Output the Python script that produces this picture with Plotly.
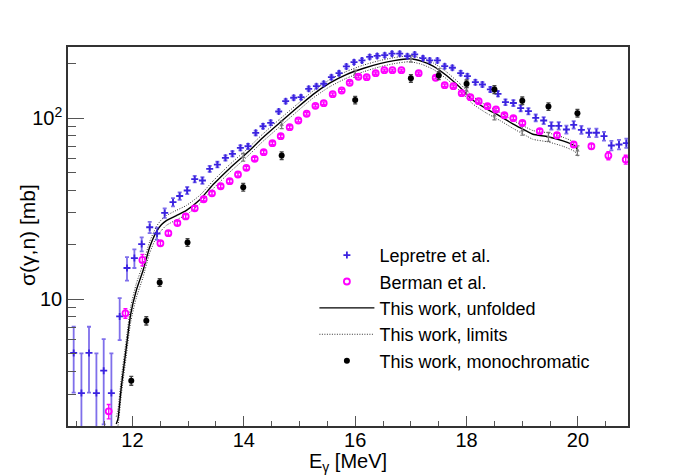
import plotly.graph_objects as go

# ---------------- data ----------------
lep_E = [10.946, 11.085, 11.221, 11.354, 11.485, 11.623, 11.772, 11.903, 12.036, 12.167,
         12.311, 12.442, 12.580, 12.729, 12.849, 12.984, 13.119, 13.257, 13.388, 13.526,
         13.670, 13.796, 13.939, 14.076, 14.214, 14.345, 14.483, 14.627, 14.752, 14.896,
         15.027, 15.165, 15.304, 15.435, 15.573, 15.710, 15.842, 15.979, 16.122, 16.260,
         16.395, 16.530, 16.661, 16.799, 16.937, 17.068, 17.217, 17.338, 17.476, 17.607,
         17.745, 17.894, 18.015, 18.158, 18.284, 18.427, 18.564, 18.698, 18.840, 18.971,
         19.110, 19.241, 19.384, 19.522, 19.654, 19.792, 19.923, 20.061, 20.198, 20.331,
         20.467, 20.600, 20.736, 20.869]
lep_sig = [5.06, 3.04, 5.06, 3.04, 4.04, 3.04, 8.05, 14.9, 16.9, 20.2,
           25.0, 23.1, 30.0, 34.4, 37.2, 39.9, 46.1, 45.3, 52.5, 55.5,
           60.4, 63.6, 68.6, 70.0, 83.0, 90.3, 94.3, 108.9, 124.2, 129.7,
           130.6, 145.3, 150.2, 154.9, 168.5, 177.3, 193.0, 203.9, 208.4, 217.9,
           220.6, 222.9, 227.0, 227.0, 220.0, 224.9, 214.5, 208.4, 208.4, 193.8,
           189.9, 177.3, 170.6, 158.1, 153.5, 144.1, 136.4, 122.6, 121.3, 113.6,
           109.3, 100.5, 97.1, 90.8, 90.8, 86.6, 91.9, 86.3, 83.1, 83.1,
           79.6, 70.7, 71.6, 72.8]
lep_err = [2.0, 2.0, 2.0, 2.0, 2.0, 2.0, 2.1, 2.2, 2.0, 1.8,
           1.8, 1.8, 1.8, 1.8, 1.8, 1.8, 1.9, 1.9, 2.0, 2.0,
           2.0, 2.1, 2.2, 2.2, 2.5, 2.7, 2.8, 3.0, 3.3, 3.4,
           3.5, 3.8, 4.0, 4.2, 4.5, 4.7, 5.0, 5.2, 5.3, 5.5,
           5.5, 5.6, 5.7, 5.7, 5.6, 5.7, 5.5, 5.4, 5.4, 5.2,
           5.1, 5.0, 4.9, 4.8, 4.7, 4.6, 4.6, 4.5, 4.5, 4.4,
           4.4, 4.3, 4.3, 4.3, 4.3, 4.3, 4.4, 4.4, 4.4, 4.4,
           4.4, 4.3, 4.3, 4.3]

ber_E = [11.575, 11.875, 12.180, 12.503, 12.646, 12.808, 12.957, 13.119, 13.280, 13.429,
         13.585, 13.747, 13.896, 14.047, 14.196, 14.357, 14.514, 14.663, 14.824, 14.980,
         15.129, 15.286, 15.435, 15.596, 15.758, 15.901, 16.058, 16.207, 16.368, 16.524,
         16.668, 16.830, 17.140, 17.445, 17.607, 17.763, 17.912, 18.068, 18.217, 18.374,
         18.528, 18.679, 18.840, 19.002, 19.313, 19.623, 19.923, 20.241, 20.546, 20.857]
ber_sig = [2.41, 8.37, 16.5, 20.4, 23.2, 26.4, 28.7, 31.8, 35.7, 38.5,
           42.1, 44.9, 48.9, 53.2, 59.7, 64.9, 72.8, 79.6, 89.2, 97.1,
           105.8, 117.1, 121.0, 135.7, 142.2, 156.9, 169.3, 168.5, 177.3, 184.1,
           184.1, 184.1, 177.3, 167.2, 152.2, 150.2, 137.4, 130.6, 124.2, 116.5,
           111.7, 103.9, 100.0, 94.1, 84.8, 80.5, 71.6, 70.0, 62.2, 59.1]
ber_err = [0.22, 0.5, 1.2, 0.6, 0.6, 0.7, 0.7, 0.8, 0.8, 0.9,
           0.9, 1.0, 1.0, 1.1, 1.2, 1.3, 1.4, 1.5, 1.6, 1.7,
           1.8, 1.9, 2.0, 2.1, 2.2, 2.3, 2.4, 2.4, 2.5, 2.5,
           2.5, 2.5, 2.5, 2.4, 2.3, 2.3, 2.2, 2.2, 2.1, 2.1,
           2.0, 2.0, 2.0, 2.0, 2.0, 2.1, 2.2, 2.3, 3.2, 3.3]

unf_E = [11.71, 11.74, 11.80, 11.89, 11.97, 12.07, 12.19, 12.31, 12.43, 12.52,
         12.61, 12.79, 12.97, 13.21, 13.45, 13.75, 14.05, 14.34, 14.64, 14.94,
         15.24, 15.54, 15.84, 16.14, 16.44, 16.70, 16.98, 17.20, 17.40, 17.64,
         17.88, 18.11, 18.35, 18.59, 18.83, 19.07, 19.19, 19.46, 19.73, 19.94, 20.00]
unf_sig = [2.05, 2.18, 3.27, 5.4, 8.3, 11.2, 14.4, 19.4, 23.6, 25.8,
           27.2, 29.0, 31.0, 35.5, 43.0, 53.0, 64.0, 78.0, 94.0, 113.0,
           135.0, 156.0, 174.0, 188.0, 200.0, 208.0, 213.0, 206.0, 194.0, 172.0,
           148.0, 126.0, 113.0, 103.0, 93.0, 85.0, 81.5, 79.0, 75.0, 70.5, 66.5]
unf_up = [2.25, 2.45, 3.65, 6.0, 9.1, 12.2, 15.6, 20.8, 25.2, 27.5,
          29.0, 31.0, 33.0, 37.5, 45.1, 55.6, 67.1, 81.7, 98.5, 118.0,
          141.0, 163.0, 181.0, 196.0, 208.0, 216.0, 221.0, 214.0, 202.0, 180.0,
          155.0, 132.0, 118.0, 108.0, 97.5, 89.0, 85.5, 83.0, 78.5, 73.5, 69.0]
unf_lo = [1.9, 2.0, 2.95, 4.85, 7.5, 10.2, 13.2, 18.0, 22.0, 24.0,
          25.6, 27.5, 29.3, 33.7, 40.8, 50.4, 60.9, 74.3, 89.5, 107.7,
          129.0, 149.0, 166.0, 180.0, 192.0, 200.0, 205.0, 198.0, 186.0, 165.0,
          141.5, 120.0, 107.0, 97.5, 88.0, 80.0, 76.5, 74.0, 70.0, 65.5, 61.5]

mono_E = [11.98, 12.25, 12.49, 12.99, 13.99, 14.68, 16.0, 17.0, 17.5, 18.0, 18.5, 19.0, 19.47, 19.99]
mono_sig = [3.56, 7.62, 12.4, 20.6, 41.6, 62.2, 126.0, 166.0, 172.0, 155.0, 144.0, 125.0, 116.0, 106.6]
mono_err = [0.2, 0.4, 0.6, 1.0, 2.0, 3.0, 6.0, 8.0, 8.5, 7.5, 7.0, 6.0, 5.5, 5.0]

unfm_E = [13.99, 14.68, 16.0, 17.0, 17.5, 18.0, 18.5, 19.0, 19.47, 19.99]
unfm_sig = [61.0, 92.0, 176.0, 213.0, 180.0, 142.0, 103.5, 85.5, 79.0, 66.4]
unfm_err = [3.0, 4.5, 8.0, 9.0, 8.0, 7.0, 5.5, 5.0, 4.5, 4.0]

x_ticks = [12, 14, 16, 18, 20]
y_ticks = [10, 100]
y_ticktext = ["10", "10<sup>2</sup>"]
y_minor = [2, 3, 4, 5, 6, 7, 8, 9, 20, 30, 40, 50, 60, 70, 80, 90, 200]

# ---------------- figure ----------------
FONT = "Liberation Sans, Arial, Helvetica, sans-serif"
BLUE = "#3a22e0"
MAG = "#ff00ff"
DOT = "1px,1.5px"

fig = go.Figure()

fig.add_trace(go.Scatter(
    x=unf_E, y=unf_up, mode="lines", name="This work, limits",
    line=dict(color="#333333", width=1, dash=DOT, shape="spline", smoothing=0.6),
    legendgroup="lim", legendrank=4, hoverinfo="skip"))
fig.add_trace(go.Scatter(
    x=unf_E, y=unf_lo, mode="lines", name="This work, limits", showlegend=False,
    line=dict(color="#333333", width=1, dash=DOT, shape="spline", smoothing=0.6),
    legendgroup="lim", hoverinfo="skip"))
fig.add_trace(go.Scatter(
    x=unf_E, y=unf_sig, mode="lines", name="This work, unfolded",
    line=dict(color="black", width=1.4, shape="spline", smoothing=0.6),
    legendrank=3))
fig.add_trace(go.Scatter(
    x=unfm_E, y=unfm_sig, mode="markers", showlegend=False,
    marker=dict(symbol="triangle-up", size=4, color="#777777"),
    error_y=dict(type="data", array=unfm_err, color="#777777", thickness=1.2, width=2)))
fig.add_trace(go.Scatter(
    x=lep_E, y=lep_sig, mode="markers", name="Lepretre et al.",
    marker=dict(symbol="cross-thin", size=5, color=BLUE, line=dict(color=BLUE, width=1.8)),
    error_y=dict(type="data", array=lep_err, color="rgba(58,34,224,0.65)", thickness=1.8, width=2),
    legendrank=1))
fig.add_trace(go.Scatter(
    x=ber_E, y=ber_sig, mode="markers", name="Berman et al.",
    marker=dict(symbol="circle-open", size=6, color=MAG, line=dict(color=MAG, width=1.8)),
    error_y=dict(type="data", array=ber_err, color=MAG, thickness=1.4, width=2),
    legendrank=2))
fig.add_trace(go.Scatter(
    x=mono_E, y=mono_sig, mode="markers", name="This work, monochromatic",
    marker=dict(symbol="circle", size=6, color="black"),
    error_y=dict(type="data", array=mono_err, color="#444444", thickness=1.4, width=2),
    legendrank=5))

fig.update_layout(
    width=698, height=475,
    margin=dict(l=68, r=70, t=47, b=49, autoexpand=False),
    paper_bgcolor="white", plot_bgcolor="white",
    font=dict(family=FONT, size=20, color="black"),
    showlegend=True,
    legend=dict(x=0.44, y=0.499, xanchor="left", yanchor="top",
                bgcolor="rgba(0,0,0,0)", borderwidth=0,
                font=dict(family=FONT, size=18, color="black"),
                itemwidth=55, tracegroupgap=0),
    xaxis=dict(
        range=[10.844, 20.898], showgrid=False, zeroline=False, automargin=False,
        showline=True, linecolor="#333333", linewidth=1.5, mirror=True,
        ticks="inside", ticklen=10, tickwidth=1.2, tickcolor="#555555",
        tickmode="array", tickvals=x_ticks, ticklabelstandoff=-5,
        tickfont=dict(family=FONT, size=20, color="black"),
        minor=dict(tickmode="linear", tick0=0, dtick=0.5, ticks="inside",
                   ticklen=5, tickwidth=1.2, tickcolor="#555555", showgrid=False),
        title=dict(text="E<sub>γ</sub> [MeV]", font=dict(family=FONT, size=20), standoff=0),
    ),
    yaxis=dict(
        type="log", range=[0.30103, 2.393], showgrid=False, zeroline=False, automargin=False,
        showline=True, linecolor="#333333", linewidth=1.5, mirror=True,
        ticks="inside", ticklen=16, tickwidth=1.2, tickcolor="#555555",
        tickmode="array", tickvals=y_ticks, ticktext=y_ticktext,
        tickfont=dict(family=FONT, size=20, color="black"),
        minor=dict(tickmode="array", tickvals=y_minor, ticks="inside",
                   ticklen=8, tickwidth=1.2, tickcolor="#555555", showgrid=False),
    ),
    annotations=[dict(text="σ(γ,n) [mb]", xref="paper", yref="paper",
                      x=-0.0727, y=0.505, xanchor="center", yanchor="middle",
                      textangle=-90, showarrow=False,
                      font=dict(family=FONT, size=21, color="black"))],
)

fig.write_html("out.html", config={"displayModeBar": False},
               post_script="document.body.style.margin='0px';")
